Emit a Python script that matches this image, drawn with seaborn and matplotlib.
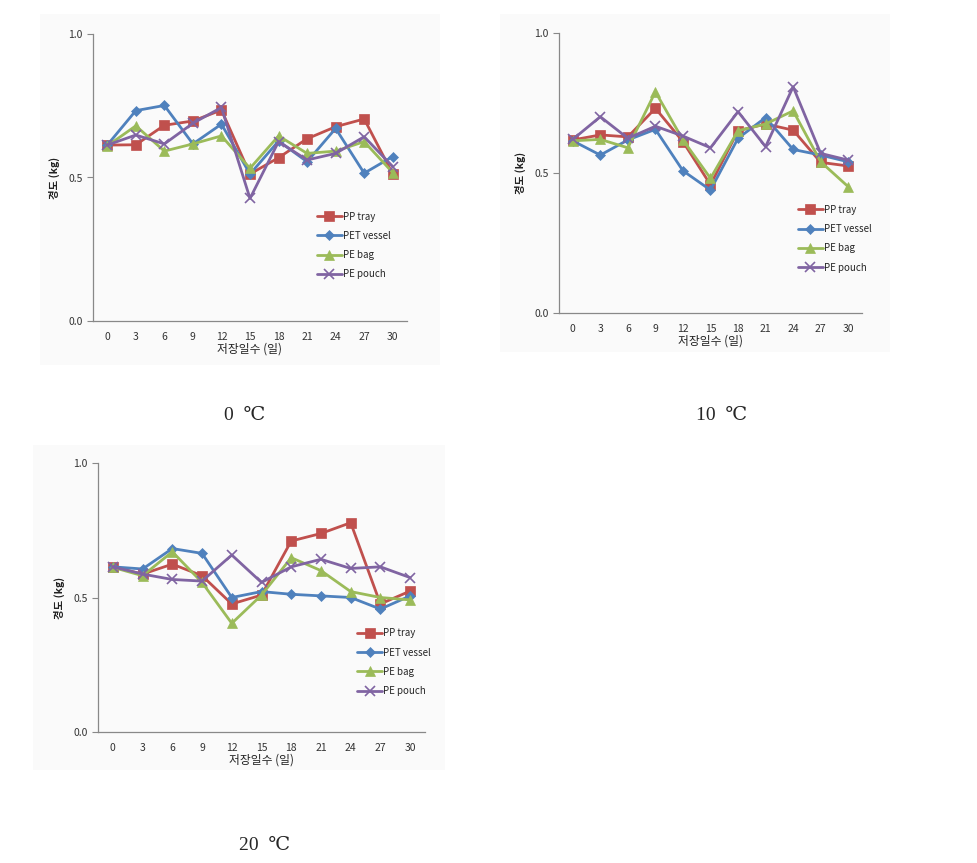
import numpy as np
import pandas as pd
import matplotlib
matplotlib.use("Agg")
import matplotlib.pyplot as plt
import seaborn as sns
from matplotlib.patches import Rectangle

sns.set_style("white")
plt.rcParams['font.family'] = ['Noto Sans CJK KR', 'DejaVu Sans']

days = [0, 3, 6, 9, 12, 15, 18, 21, 24, 27, 30]
series_names = ["PP tray", "PET vessel", "PE bag", "PE pouch"]

# 0 ℃
pp_0 = [0.613, 0.614, 0.682, 0.697, 0.735, 0.512, 0.569, 0.635, 0.677, 0.704, 0.512]
pet_0 = [0.613, 0.733, 0.751, 0.617, 0.686, 0.512, 0.627, 0.555, 0.671, 0.515, 0.573]
bag_0 = [0.610, 0.680, 0.592, 0.617, 0.645, 0.532, 0.645, 0.584, 0.592, 0.625, 0.517]
pouch_0 = [0.613, 0.648, 0.617, 0.689, 0.744, 0.427, 0.625, 0.561, 0.584, 0.642, 0.538]

# 10 ℃
pp_10 = [0.618, 0.636, 0.629, 0.731, 0.612, 0.458, 0.651, 0.675, 0.653, 0.538, 0.525]
pet_10 = [0.615, 0.564, 0.618, 0.656, 0.508, 0.439, 0.624, 0.698, 0.584, 0.564, 0.540]
bag_10 = [0.615, 0.620, 0.590, 0.790, 0.618, 0.481, 0.651, 0.675, 0.722, 0.540, 0.451]
pouch_10 = [0.620, 0.701, 0.624, 0.667, 0.632, 0.590, 0.719, 0.594, 0.808, 0.570, 0.546]

# 20 ℃
pp_20 = [0.614, 0.587, 0.624, 0.581, 0.476, 0.509, 0.710, 0.738, 0.778, 0.476, 0.524]
pet_20 = [0.614, 0.606, 0.682, 0.664, 0.500, 0.522, 0.512, 0.506, 0.500, 0.457, 0.506]
bag_20 = [0.612, 0.581, 0.670, 0.556, 0.404, 0.509, 0.648, 0.600, 0.522, 0.500, 0.491]
pouch_20 = [0.614, 0.587, 0.567, 0.561, 0.658, 0.556, 0.614, 0.642, 0.608, 0.614, 0.574]

captions = ["0  ℃", "10  ℃", "20  ℃"]
x_label = "저장일수 (일)"
y_label = "경도 (kg)"

colors = {"PP tray": "#C0504D", "PET vessel": "#4F81BD",
          "PE bag": "#9BBB59", "PE pouch": "#8064A2"}
markers = {"PP tray": "s", "PET vessel": "D", "PE bag": "^", "PE pouch": "x"}
msizes = {"PP tray": 6.5, "PET vessel": 5, "PE bag": 7, "PE pouch": 7}


def make_df(vals):
    rows = []
    for name, v in zip(series_names, vals):
        for d, y in zip(days, v):
            rows.append({"day": d, "value": y, "series": name})
    return pd.DataFrame(rows)


panels = [
    (make_df([pp_0, pet_0, bag_0, pouch_0]), [93, 34, 407, 321], (40, 14, 440, 365), (245, 415), (0.70, 0.395)),
    (make_df([pp_10, pet_10, bag_10, pouch_10]), [559, 33, 862, 313], (500, 14, 890, 352), (722, 415), (0.775, 0.40)),
    (make_df([pp_20, pet_20, bag_20, pouch_20]), [98, 463, 425, 732], (33, 445, 445, 770), (265, 845), (0.78, 0.40)),
]

W, H = 978, 863
fig = plt.figure(figsize=(W / 100, H / 100), dpi=100)

for i, (df, box, bg, cap, leg) in enumerate(panels):
    x0, y0, x1, y1 = box
    bx0, by0, bx1, by1 = bg
    fig.add_artist(Rectangle((bx0 / W, 1 - by1 / H), (bx1 - bx0) / W, (by1 - by0) / H,
                             transform=fig.transFigure, facecolor="#fafafa",
                             edgecolor="none", zorder=-5))
    ax = fig.add_axes([x0 / W, 1 - y1 / H, (x1 - x0) / W, (y1 - y0) / H])
    ax.set_zorder(2)
    ax.set_facecolor("none")
    ax.patch.set_alpha(0)
    for name in series_names:
        sub = df[df["series"] == name]
        sns.lineplot(data=sub, x="day", y="value", ax=ax, color=colors[name],
                     marker=markers[name], markersize=msizes[name], linewidth=2.0,
                     markeredgecolor=colors[name], markeredgewidth=1.2 if name == "PE pouch" else 0.5,
                     label=name, estimator=None, sort=False)
    ax.set_xlim(-1.5, 31.5)
    ax.set_ylim(0, 1.0)
    ax.set_xticks(days)
    ax.set_xticklabels([str(d) for d in days], fontsize=7.5, color="#333333")
    ax.set_xticks(np.arange(-1.5, 32, 3), minor=True)
    ax.tick_params(axis="x", which="major", length=0, pad=8)
    ax.tick_params(axis="x", which="minor", length=4, direction="out", color="#888888", width=0.8)
    ax.set_yticks([0, 0.5, 1.0])
    ax.set_yticklabels(["0.0", "0.5", "1.0"], fontsize=7.5, color="#333333")
    ax.tick_params(axis="y", length=4, direction="out", color="#888888", width=0.8, left=True)
    for s in ["top", "right"]:
        ax.spines[s].set_visible(False)
    for s in ["left", "bottom"]:
        ax.spines[s].set_color("#888888")
        ax.spines[s].set_linewidth(0.9)
    ax.set_xlabel(x_label, fontsize=8.5, labelpad=0, color="#222222")
    ax.set_ylabel(y_label, fontsize=7.5, labelpad=6, color="#222222", fontweight="bold")
    ax.legend(loc="upper left", bbox_to_anchor=leg, frameon=False, fontsize=7,
              handlelength=2.6, handletextpad=0.1, labelspacing=0.95, borderaxespad=0)
    fig.text(cap[0] / W, 1 - cap[1] / H, captions[i], fontsize=14,
             family=["Liberation Serif", "DejaVu Serif"], ha="center", va="center")

fig.savefig("out.png", dpi=100)
